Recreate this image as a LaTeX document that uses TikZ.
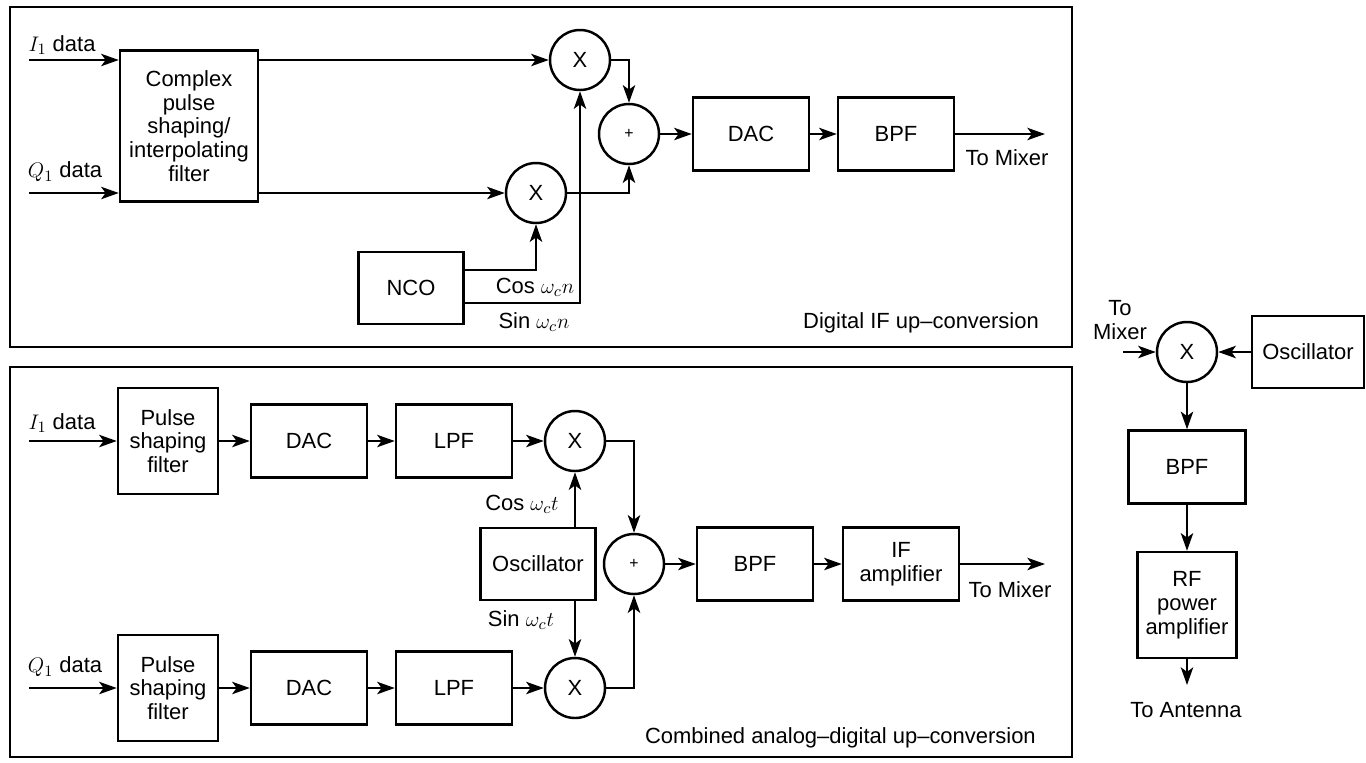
\documentclass[tikz,border=0pt]{standalone}
\usepackage{fontspec}
\setmainfont{Liberation Sans}
\usetikzlibrary{arrows.meta}

\tikzset{
  blk/.style={draw, line width=1.4pt, minimum width=2.32cm, minimum height=1.46cm, inner sep=0pt, align=center},
  mix/.style={draw, circle, line width=1.4pt, minimum size=1.2cm, inner sep=0pt},
  arr/.style={line width=1.4pt, -{Stealth[length=10pt,width=7pt,inset=2.5pt]}},
  wire/.style={line width=1.4pt},
}

\begin{document}
\begin{tikzpicture}[x=0.02cm, y=-0.02cm, every node/.style={font=\fontsize{12.5}{13.5}\selectfont}]
\useasboundingbox (0,0) rectangle (1366,762);

\draw[line width=1.5pt] (10,7) rectangle (1072,347);
\draw[line width=1.5pt] (10,367) rectangle (1072,757);

\node[blk, minimum width=2.76cm, minimum height=3.02cm] (cplx) at (189,126) {Complex\\pulse\\shaping/\\interpolating\\filter};
\node[mix] (mxI) at (580,60) {X};
\node[mix] (mxQ) at (536,193) {X};
\node[mix] (sumA) at (629,134) {\small +};
\node[blk] (dacA) at (751,134) {DAC};
\node[blk] (bpfA) at (896,134) {BPF};
\node[blk, minimum width=2.1cm, minimum height=1.44cm] (nco) at (411,288) {NCO};

\coordinate (inI) at (29,60);
\coordinate (inQ) at (29,193);
\coordinate (outA) at (1045,134);

\draw[arr] (inI) -- (inI -| cplx.west);
\draw[arr] (inQ) -- (inQ -| cplx.west);
\draw[arr] (cplx.east |- mxI) -- (mxI);
\draw[arr] (cplx.east |- mxQ) -- (mxQ);
\draw[arr] (mxI) -| (sumA);
\draw[arr] (mxQ) -| (sumA);
\draw[arr] (sumA) -- (dacA);
\draw[arr] (dacA) -- (bpfA);
\draw[arr] (bpfA) -- (outA);
\draw[arr] ([yshift=0.36cm]nco.east) -| (mxQ);
\draw[arr] ([yshift=-0.3cm]nco.east) -| (mxI);

\node (lbI) at (62,45) {$I_1$ data};
\node (lbQ) at (65,172) {$Q_1$ data};
\node (lbOutA) at (1007,158) {To Mixer};
\node (lbCos) at (535,287) {Cos $\omega_c n$};
\node (lbSin) at (534,322) {Sin $\omega_c n$};
\node[anchor=east] (capA) at (1045,323) {Digital IF up--conversion};

\node[blk, minimum width=2cm, minimum height=2.12cm] (pulI) at (168,441) {Pulse\\shaping\\filter};
\node[blk] (dacI) at (309,441) {DAC};
\node[blk] (lpfI) at (454,441) {LPF};
\node[mix] (mxB1) at (575,441) {X};
\node[blk, minimum width=2cm, minimum height=2.12cm] (pulQ) at (168,688) {Pulse\\shaping\\filter};
\node[blk] (dacQ) at (309,688) {DAC};
\node[blk] (lpfQ) at (454,688) {LPF};
\node[mix] (mxB2) at (575,688) {X};
\node[blk, minimum width=2.3cm, minimum height=1.44cm] (osc) at (538,564) {Oscillator};
\node[mix] (sumB) at (634,564) {\small +};
\node[blk] (bpfB) at (755,564) {BPF};
\node[blk] (ifamp) at (901,564) {IF\\amplifier};

\coordinate (inBI) at (29,441);
\coordinate (inBQ) at (29,688);
\coordinate (outB) at (1045,564);

\draw[arr] (inBI) -- (pulI);
\draw[arr] (pulI) -- (dacI);
\draw[arr] (dacI) -- (lpfI);
\draw[arr] (lpfI) -- (mxB1);
\draw[arr] (inBQ) -- (pulQ);
\draw[arr] (pulQ) -- (dacQ);
\draw[arr] (dacQ) -- (lpfQ);
\draw[arr] (lpfQ) -- (mxB2);
\draw[arr] (osc.north -| mxB1) -- (mxB1);
\draw[arr] (osc.south -| mxB2) -- (mxB2);
\draw[arr] (mxB1) -| (sumB);
\draw[arr] (mxB2) -| (sumB);
\draw[arr] (sumB) -- (bpfB);
\draw[arr] (bpfB) -- (ifamp);
\draw[arr] (ifamp) -- (outB);

\node (lbBI) at (62,423) {$I_1$ data};
\node (lbBQ) at (65,667) {$Q_1$ data};
\node (lbCosB) at (522,504) {Cos $\omega_c t$};
\node (lbSinB) at (521,620) {Sin $\omega_c t$};
\node (lbOutB) at (1010,590) {To Mixer};
\node[anchor=east] (capB) at (1042,738) {Combined analog--digital up--conversion};

\node[mix] (mxR) at (1187,352) {X};
\node[blk, minimum width=2.24cm, minimum height=1.44cm] (oscR) at (1308,352) {Oscillator};
\node[blk, minimum width=2.34cm] (bpfR) at (1187,467) {BPF};
\node[blk, minimum width=1.98cm, minimum height=2.12cm] (rfamp) at (1187,605) {RF\\power\\amplifier};

\coordinate (inR) at (1123,352);
\coordinate (antR) at (1187,685);

\draw[arr] (inR) -- (mxR);
\draw[arr] (oscR) -- (mxR);
\draw[arr] (mxR) -- (bpfR);
\draw[arr] (bpfR) -- (rfamp);
\draw[arr] (rfamp) -- (antR);

\node[align=center] (lbInR) at (1120,320) {To\\Mixer};
\node (lbAnt) at (1186,710) {To Antenna};
\end{tikzpicture}
\end{document}
